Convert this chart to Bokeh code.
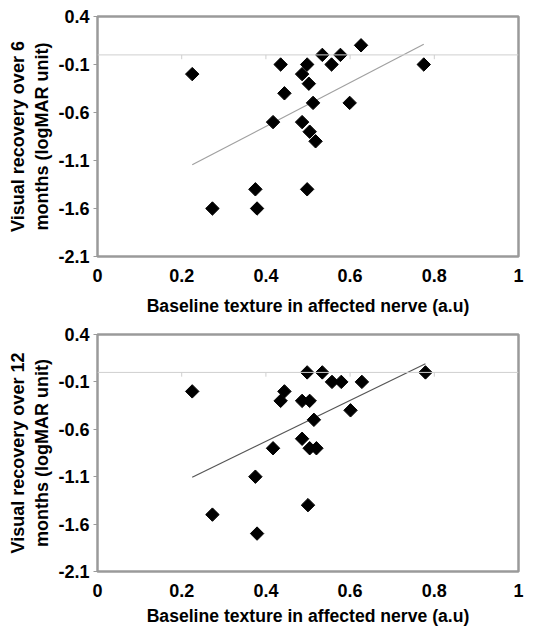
import numpy as np
from bokeh.plotting import figure
from bokeh.layouts import column
from bokeh.models import Span, FixedTicker, Range1d, ColumnDataSource, CustomJSTickFormatter
from bokeh.embed import file_html
from bokeh.resources import INLINE

# ---- data ----
x_6m = [0.225, 0.273, 0.375, 0.379, 0.417, 0.435, 0.444, 0.486, 0.486, 0.498, 0.502,
        0.498, 0.504, 0.512, 0.518, 0.534, 0.556, 0.577, 0.599, 0.626, 0.775]
y_6m = [-0.2, -1.6, -1.4, -1.6, -0.7, -0.1, -0.4, -0.2, -0.7, -0.1, -0.3,
        -1.4, -0.8, -0.5, -0.9, 0.0, -0.1, 0.0, -0.5, 0.1, -0.1]

x_12m = [0.225, 0.273, 0.375, 0.379, 0.417, 0.435, 0.444, 0.486, 0.486, 0.498, 0.504,
         0.500, 0.504, 0.514, 0.520, 0.534, 0.557, 0.579, 0.601, 0.628, 0.779]
y_12m = [-0.2, -1.5, -1.1, -1.7, -0.8, -0.3, -0.2, -0.3, -0.7, 0.0, -0.3,
         -1.4, -0.8, -0.5, -0.8, 0.0, -0.1, -0.1, -0.4, -0.1, 0.0]

x_ticks = [0, 0.2, 0.4, 0.6, 0.8, 1]
y_ticks = [-2.1, -1.6, -1.1, -0.6, -0.1, 0.4]
x_label = "Baseline texture in affected nerve (a.u)"
y_label_6m = "Visual recovery over 6\nmonths (logMAR unit)"
y_label_12m = "Visual recovery over 12\nmonths (logMAR unit)"

FONT = "Liberation Sans"
TICK_LEN = 0.045  # length of small ticks on the zero line (data units)


def make_panel(xs, ys, ylabel, height, border_top, border_bottom,
               trend_color, label_standoff):
    p = figure(width=525, height=height, output_backend="svg", toolbar_location=None,
               x_range=Range1d(0, 1), y_range=Range1d(-2.1, 0.4),
               min_border_left=97, min_border_right=7,
               min_border_top=border_top, min_border_bottom=border_bottom)
    p.grid.visible = False
    p.outline_line_color = "#9a9a9a"
    p.outline_line_width = 2.5
    p.background_fill_color = "white"
    p.border_fill_color = "white"

    fmt = CustomJSTickFormatter(code="return String(Math.round(tick*10)/10);")

    # x axis (labels only)
    xa = p.xaxis[0]
    xa.ticker = FixedTicker(ticks=x_ticks)
    xa.formatter = fmt
    xa.axis_line_color = None
    xa.major_tick_line_color = None
    xa.minor_tick_line_color = None
    xa.major_label_standoff = 6
    xa.major_label_text_font = FONT
    xa.major_label_text_font_style = "bold"
    xa.major_label_text_font_size = "18px"
    xa.major_label_text_color = "black"
    xa.axis_label = x_label
    xa.axis_label_text_font = FONT
    xa.axis_label_text_font_style = "bold"
    xa.axis_label_text_font_size = "17.6px"
    xa.axis_label_text_color = "black"
    xa.axis_label_standoff = label_standoff

    # y axis
    ya = p.yaxis[0]
    ya.ticker = FixedTicker(ticks=y_ticks)
    ya.formatter = fmt
    ya.axis_line_color = None
    ya.major_tick_line_color = "#9a9a9a"
    ya.major_tick_line_width = 1
    ya.major_tick_out = 4
    ya.major_tick_in = 0
    ya.minor_tick_line_color = None
    ya.major_label_standoff = 4
    ya.major_label_text_font = FONT
    ya.major_label_text_font_style = "bold"
    ya.major_label_text_font_size = "18px"
    ya.major_label_text_color = "black"
    ya.axis_label = ylabel
    ya.axis_label_text_font = FONT
    ya.axis_label_text_font_style = "bold"
    ya.axis_label_text_font_size = "18px"
    ya.axis_label_text_color = "black"
    ya.axis_label_standoff = 3

    # zero line with small ticks
    p.add_layout(Span(location=0, dimension="width", line_color="#cfcfcf", line_width=1))
    inner = [t for t in x_ticks if 0 < t < 1]
    p.segment(x0=inner, y0=[0] * len(inner), x1=inner, y1=[-TICK_LEN] * len(inner),
              line_color="#cfcfcf", line_width=1)

    # regression line
    xa_arr = np.array(xs)
    ya_arr = np.array(ys)
    slope, intercept = np.polyfit(xa_arr, ya_arr, 1)
    lx = [xa_arr.min(), xa_arr.max()]
    ly = [slope * v + intercept for v in lx]
    p.line(lx, ly, line_color=trend_color, line_width=1.2)

    src = ColumnDataSource(dict(x=xs, y=ys))
    p.scatter("x", "y", source=src, marker="square", angle=np.pi / 4, size=9.5,
              fill_color="black", line_color="black")
    return p


p1 = make_panel(x_6m, y_6m, y_label_6m, 318, 16, 60, "#a0a0a0", 11)
p2 = make_panel(x_12m, y_12m, y_label_12m, 310, 16, 57, "#555555", 6)

layout = column(p1, p2, spacing=0)
open("out.html", "w").write(file_html(layout, INLINE))
